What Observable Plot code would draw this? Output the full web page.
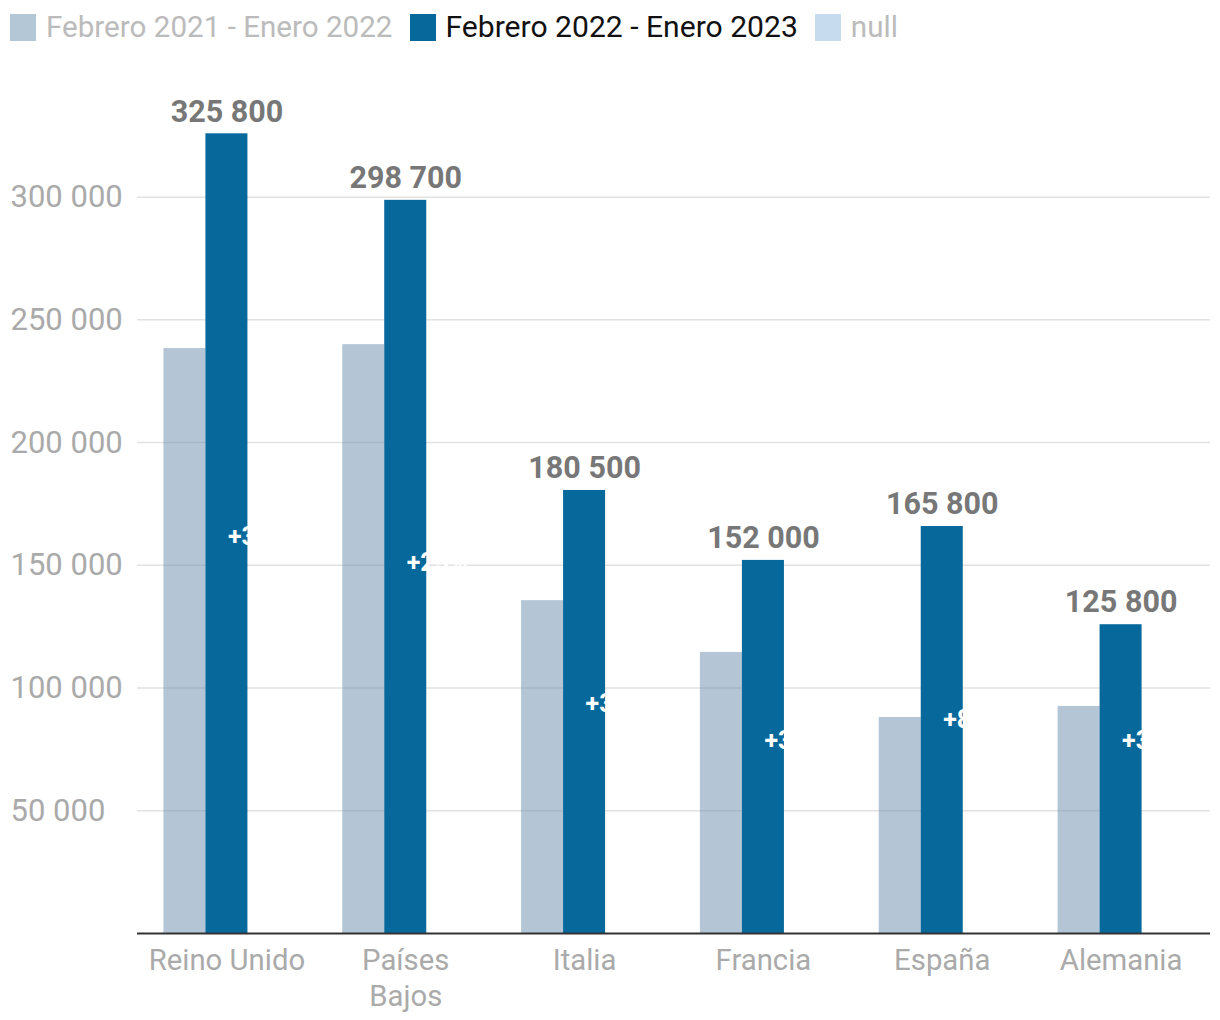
<!DOCTYPE html>
<html>
<head>
<meta charset="utf-8">
<script src="https://cdn.jsdelivr.net/npm/d3@7"></script>
<script src="https://cdn.jsdelivr.net/npm/@observablehq/plot@0.6"></script>
<style>
  html, body { margin: 0; padding: 0; background: #fff; }
  body { width: 1220px; height: 1020px; overflow: hidden; font-family: Roboto, "Noto Sans", sans-serif; }
  #legend { height: 55px; box-sizing: border-box; padding: 0 0 0 10px; display: flex; align-items: flex-start; font-size: 29.6px; line-height: 30px; }
  #legend .item { display: flex; align-items: center; margin-right: 17px; margin-top: 12px; }
  #legend .sw { width: 26px; height: 27px; margin-right: 10px; }
  #chart svg { display: block; }
</style>
</head>
<body>
<div id="legend"></div>
<div id="chart"></div>
<script>
const paises = ["Reino Unido", "Países Bajos", "Italia", "Francia", "España", "Alemania"];
const previo = [238300, 239900, 135600, 114500, 88000, 92500];
const actual = [325800, 298700, 180500, 152000, 165800, 125800];
const variacion = ["+37%", "+25%", "+33%", "+33%", "+88%", "+36%"];
// vertical anchor (in data units) of each variation label
const variacionPos = [161700, 151100, 93300, 78600, 86800, 78600];
const ticksY = [50000, 100000, 150000, 200000, 250000, 300000];
const series = ["Febrero 2021 - Enero 2022", "Febrero 2022 - Enero 2023", "null"];
const seriesColors = ["#b3c7d6", "#06689b", "#c6dcee"];
const seriesText = ["#bbbbbb", "#111111", "#bbbbbb"];
const seriesSize = ["29.6px", "30.1px", "29.6px"];

const data = paises.map((p, i) => ({pais: p, previo: previo[i], actual: actual[i], variacion: variacion[i], pos: variacionPos[i]}));
const fmt = d3.formatLocale({decimal: ",", thousands: " ", grouping: [3], currency: ["", ""]}).format(",.0f");

const legend = document.getElementById("legend");
series.forEach((s, i) => {
  const it = document.createElement("div");
  it.className = "item";
  it.innerHTML = `<span class="sw" style="background:${seriesColors[i]}"></span><span style="color:${seriesText[i]};font-size:${seriesSize[i]}">${s}</span>`;
  legend.appendChild(it);
});

const chart = Plot.plot({
  width: 1220,
  height: 965,
  marginLeft: 137,
  marginRight: 10,
  marginTop: 68,
  marginBottom: 87,
  style: {fontFamily: "Roboto, sans-serif", background: "#fff"},
  x: {domain: paises, paddingInner: 0.765, paddingOuter: 0.3825, round: false, label: null},
  y: {domain: [0, 330000], label: null},
  marks: [
    Plot.gridY(ticksY, {stroke: "#e2e2e2", strokeOpacity: 1, strokeWidth: 1.5}),
    Plot.axisY(ticksY, {tickSize: 0, tickPadding: 127, textAnchor: "start", fill: "#aaaaaa", fontSize: 31, tickFormat: fmt, label: null}),
    Plot.barY(data, {x: "pais", y: "previo", fill: "#698dab", fillOpacity: 0.5, dx: -42}),
    Plot.barY(data, {x: "pais", y: "actual", fill: "#06689b"}),
    Plot.text(data, {x: "pais", y: "actual", text: d => fmt(d.actual), dy: -22, fill: "#777777", fontWeight: "bold", fontSize: 30.5}),
    Plot.text(data, {x: "pais", y: "pos", text: "variacion", textAnchor: "start", dx: 1, fill: "white", fontWeight: "bold", fontSize: 25}),
    Plot.ruleY([0], {stroke: "#333333", strokeWidth: 2}),
    Plot.axisX({tickSize: 0, tickPadding: 12, fill: "#aaaaaa", fontSize: 29.3, label: null, lineHeight: 1.2,
      tickFormat: d => d === "Países Bajos" ? "Países\nBajos" : d})
  ]
});
document.getElementById("chart").appendChild(chart);
</script>
</body>
</html>
